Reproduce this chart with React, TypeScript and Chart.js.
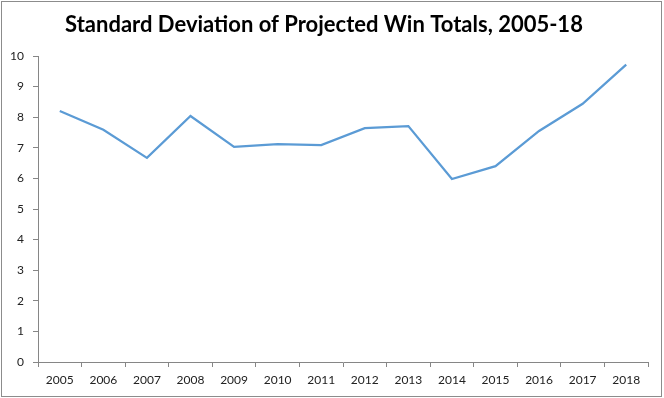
import React, { useEffect, useRef } from "react";
import { Chart, registerables } from "chart.js";

Chart.register(...registerables);

const years = ["2005", "2006", "2007", "2008", "2009", "2010", "2011", "2012", "2013", "2014", "2015", "2016", "2017", "2018"];
const stdDev = [8.2, 7.59, 6.67, 8.04, 7.03, 7.12, 7.09, 7.64, 7.71, 5.98, 6.4, 7.55, 8.44, 9.72];
const titleText = "Standard Deviation of Projected Win Totals, 2005-18";

const axisGray = "#868686";
const fontFamily = "Lato, 'Open Sans', sans-serif";

const borderPlugin = {
  id: "outerBorder",
  afterDraw(chart: any) {
    const ctx = chart.ctx;
    ctx.save();
    ctx.strokeStyle = "#8c8c8c";
    ctx.lineWidth = 1;
    ctx.strokeRect(1.5, 1.5, 660, 395);
    ctx.restore();
  },
};

export default function App() {
  const ref = useRef<HTMLCanvasElement | null>(null);
  useEffect(() => {
    document.body.style.margin = "0";
    const canvas = ref.current!;
    const chart = new Chart(canvas, {
      type: "line",
      data: {
        labels: years,
        datasets: [
          {
            data: stdDev,
            borderColor: "#5B9BD5",
            borderWidth: 2.25,
            pointRadius: 0,
            tension: 0,
            fill: false,
          },
        ],
      },
      options: {
        responsive: false,
        animation: false,
        devicePixelRatio: 1,
        layout: { padding: { left: 0, right: 16, top: 0, bottom: 0 } },
        plugins: {
          legend: { display: false },
          tooltip: { enabled: false },
          title: {
            display: true,
            text: titleText,
            color: "#000",
            font: { family: fontFamily, size: 22, weight: "bold", lineHeight: 1.2 },
            padding: { top: 12, bottom: 17.6 },
          },
        },
        scales: {
          x: {
            type: "category",
            offset: true,
            afterFit(scale: any) {
              scale.height = 36;
            },
            grid: {
              offset: true,
              drawOnChartArea: false,
              drawTicks: true,
              tickLength: 5,
              color: axisGray,
            },
            border: { display: true, color: axisGray, width: 1 },
            ticks: {
              color: "#222",
              font: { family: fontFamily, size: 12 },
              padding: 6,
              maxRotation: 0,
              autoSkip: false,
            },
          },
          y: {
            min: 0,
            max: 10,
            afterFit(scale: any) {
              scale.width = 38;
            },
            grid: {
              drawOnChartArea: false,
              drawTicks: true,
              tickLength: 5,
              color: axisGray,
            },
            border: { display: true, color: axisGray, width: 1 },
            ticks: {
              stepSize: 1,
              color: "#222",
              font: { family: fontFamily, size: 12 },
              padding: 9,
            },
          },
        },
      },
      plugins: [borderPlugin],
    } as any);
    return () => chart.destroy();
  }, []);
  return <canvas ref={ref} width={664} height={398} style={{ display: "block" }} />;
}
